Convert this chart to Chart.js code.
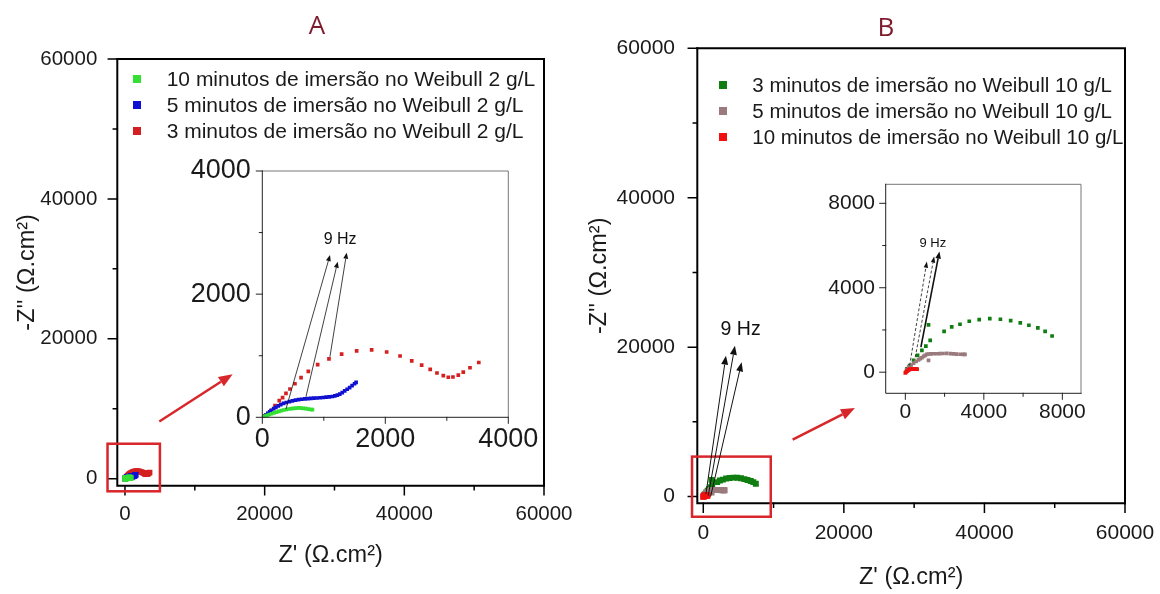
<!DOCTYPE html>
<html>
<head>
<meta charset="utf-8">
<script src="https://cdn.jsdelivr.net/npm/chart.js@4.4.1/dist/chart.umd.min.js"></script>
<style>
  body { margin: 0; background: #fff; }
  #fig { position: relative; width: 1160px; height: 594px; overflow: hidden; font-family: "Liberation Sans", Arial, sans-serif; color: #1a1a1a; }
  #fig canvas { position: absolute; }
  .panel { position: absolute; font-family: "Open Sans", sans-serif; font-size: 26px; line-height: 1; color: #7d1a2c; transform: translate(-50%, -50%); }
  .legend { position: absolute; }
  .legend div { position: relative; white-space: nowrap; }
  .legend span { position: absolute; width: 8px; height: 8px; top: 50%; margin-top: -4px; }
</style>
</head>
<body>
<div id="fig">
  <canvas id="mainA" width="580" height="594" style="left:0;top:0"></canvas>
  <canvas id="insetA" width="370" height="310" style="left:180px;top:150px"></canvas>
  <canvas id="mainB" width="580" height="594" style="left:580px;top:0"></canvas>
  <canvas id="insetB" width="300" height="265" style="left:820px;top:165px"></canvas>
  <div class="panel" style="left:317px;top:24px">A</div>
  <div class="panel" style="left:886px;top:26px">B</div>
  <div class="legend" id="legendA"></div>
  <div class="legend" id="legendB"></div>
</div>
<script>
// Weibull 2 g/L, Nyquist points (Z', -Z'') in ohm.cm2
var a10X = [20, 50, 80, 115, 150, 190, 230, 270, 310, 350, 390, 430, 470, 510, 550, 590, 630, 670, 710, 750, 790, 815];
var a10Y = [8, 20, 32, 45, 58, 72, 85, 97, 108, 118, 127, 135, 141, 146, 150, 152, 150, 146, 140, 133, 127, 124];
var a5X = [30, 60, 90, 120, 150, 185, 220, 260, 300, 345, 390, 440, 490, 540, 590, 640, 690, 740, 790, 840, 890, 940, 990, 1040, 1090, 1140, 1180, 1220, 1260, 1300, 1340, 1380, 1420, 1460, 1500, 1525];
var a5Y = [15, 40, 65, 90, 115, 140, 160, 185, 205, 225, 240, 255, 268, 278, 286, 293, 298, 302, 306, 310, 314, 318, 322, 327, 333, 338, 348, 360, 376, 400, 428, 455, 483, 515, 545, 568];
var a3X = [40, 90, 140, 206, 276, 330, 385, 450, 531, 630, 748, 900, 1084, 1290, 1534, 1778, 2022, 2240, 2430, 2591, 2730, 2840, 2943, 3024, 3100, 3187, 3268, 3377, 3520];
var a3Y = [25, 60, 110, 189, 270, 320, 389, 460, 545, 645, 746, 855, 950, 1027, 1080, 1095, 1060, 995, 917, 846, 778, 719, 678, 651, 655, 686, 735, 805, 890];

// Weibull 10 g/L
var b3X = [84, 219, 422, 624, 844, 1046, 1266, 1181, 1975, 2363, 2785, 3257, 3764, 4304, 4844, 5367, 5857, 6295, 6751, 7122, 7477];
var b3Y = [159, 317, 556, 794, 1032, 1238, 1508, 2238, 1937, 2143, 2270, 2413, 2492, 2540, 2508, 2444, 2333, 2222, 2095, 1937, 1714];
var b5X = [60, 169, 300, 422, 550, 675, 760, 844, 928, 1010, 1097, 1181, 1181, 1300, 1450, 1603, 1760, 1920, 2110, 2300, 2460, 2616, 2800, 2950, 3038];
var b5Y = [100, 238, 340, 429, 510, 587, 640, 683, 746, 800, 841, 860, 556, 870, 872, 873, 880, 885, 889, 880, 868, 857, 850, 845, 841];
var b10X = [0, 40, 84, 130, 169, 210, 253, 320, 388, 450, 506, 560, 600];
var b10Y = [-30, 10, 48, 80, 111, 130, 143, 145, 143, 150, 159, 150, 143];

var labelsA = ["10 minutos de imersão no Weibull 2 g/L", "5 minutos de imersão no Weibull 2 g/L", "3 minutos de imersão no Weibull 2 g/L"];
var labelsB = ["3 minutos de imersão no Weibull 10 g/L", "5 minutos de imersão no Weibull 10 g/L", "10 minutos de imersão no Weibull 10 g/L"];
var colorsA = ["#35e035", "#1010d0", "#d42020"];
var colorsB = ["#0f7d0f", "#9a7a7c", "#f01010"];

// tick positions; only multiples of the label step get a number
var mainTicks = [0, 10000, 20000, 30000, 40000, 50000, 60000];
var insetATicks = [0, 1000, 2000, 3000, 4000];
var insetBTicks = [0, 2000, 4000, 6000, 8000];

// zoom frame, pointer and 9 Hz arrows, in data units
var zoomBoxA = [-2500, -1800, 5000, 5000];
var pointerA = [4911, 8183, 15419, 14950];
var hzArrowsA = [[385, 135, 1101, 2635], [710, 335, 1226, 2526], [1100, 984, 1372, 2672]];
var hzTextA = [1265, 2879];
var zoomBoxB = [-1600, -2700, 9600, 5350];
var pointerB = [12717, 7625, 21579, 11866];
var hzArrowsB = [[380, 357, 3226, 18859], [711, 134, 4507, 20196], [1044, 0, 5455, 17967]];
var hzTextB = [5312, 22292];
var hzArrowsBi = [[219, 317, 1097, 5238], [506, 714, 1468, 5476], [793, 1190, 1738, 5714]];
var hzTextBi = [1401, 6079];

var FONT = "'Liberation Sans', Arial, sans-serif";
var RED = "#d8262a";

function pts(xs, ys) {
  return xs.map(function (x, i) { return { x: x, y: ys[i] }; });
}

function arrow(ctx, x1, y1, x2, y2, s) {
  var ang = Math.atan2(y2 - y1, x2 - x1);
  var bx = x2 - s.head * Math.cos(ang), by = y2 - s.head * Math.sin(ang);
  ctx.strokeStyle = s.color;
  ctx.fillStyle = s.color;
  ctx.lineWidth = s.width;
  ctx.setLineDash(s.dash || []);
  ctx.beginPath();
  ctx.moveTo(x1, y1);
  ctx.lineTo(bx, by);
  ctx.stroke();
  ctx.setLineDash([]);
  ctx.beginPath();
  ctx.moveTo(x2, y2);
  ctx.lineTo(bx + s.half * Math.sin(ang), by - s.half * Math.cos(ang));
  ctx.lineTo(bx - s.half * Math.sin(ang), by + s.half * Math.cos(ang));
  ctx.closePath();
  ctx.fill();
}

// outward tick marks plus the box around the plot area
var axesPlugin = {
  id: 'axes',
  afterDraw: function (chart, args, o) {
    var ctx = chart.ctx, a = chart.chartArea, x = chart.scales.x, y = chart.scales.y;
    ctx.save();
    ctx.lineCap = 'square';
    ctx.strokeStyle = o.axisColor;
    ctx.lineWidth = o.tickWidth;
    ctx.beginPath();
    x.ticks.forEach(function (t) {
      var p = x.getPixelForValue(t.value);
      ctx.moveTo(p, a.bottom);
      ctx.lineTo(p, a.bottom + (t.label ? o.major : o.minor));
    });
    y.ticks.forEach(function (t) {
      var p = y.getPixelForValue(t.value);
      ctx.moveTo(a.left, p);
      ctx.lineTo(a.left - (t.label ? o.major : o.minor), p);
    });
    ctx.stroke();
    ctx.strokeStyle = o.edgeColor;
    ctx.lineWidth = o.edgeWidth;
    ctx.beginPath();
    ctx.moveTo(a.left, a.top);
    ctx.lineTo(a.right, a.top);
    ctx.lineTo(a.right, a.bottom);
    ctx.stroke();
    ctx.strokeStyle = o.axisColor;
    ctx.lineWidth = o.axisWidth;
    ctx.beginPath();
    ctx.moveTo(a.left, a.top);
    ctx.lineTo(a.left, a.bottom);
    ctx.lineTo(a.right, a.bottom);
    ctx.stroke();
    ctx.restore();
  }
};

// zoom frame, red pointer and the 9 Hz arrows
var marksPlugin = {
  id: 'marks',
  afterDraw: function (chart, args, o) {
    var ctx = chart.ctx, x = chart.scales.x, y = chart.scales.y;
    var px = function (v) { return x.getPixelForValue(v); };
    var py = function (v) { return y.getPixelForValue(v); };
    ctx.save();
    if (o.box) {
      ctx.strokeStyle = RED;
      ctx.lineWidth = 2.5;
      ctx.strokeRect(px(o.box[0]), py(o.box[3]), px(o.box[2]) - px(o.box[0]), py(o.box[1]) - py(o.box[3]));
    }
    if (o.pointer) {
      var p = o.pointer;
      arrow(ctx, px(p[0]), py(p[1]), px(p[2]), py(p[3]), { color: RED, width: 2.5, head: 14, half: 5.5 });
    }
    (o.arrows || []).forEach(function (r, i) {
      var st = o.styles ? o.styles[i] : o.style;
      arrow(ctx, px(r[0]), py(r[1]), px(r[2]), py(r[3]), st);
    });
    if (o.text) {
      ctx.fillStyle = '#111';
      ctx.font = o.textSize + "px " + FONT;
      ctx.textAlign = 'center';
      ctx.textBaseline = 'middle';
      ctx.fillText('9 Hz', px(o.text[0]), py(o.text[1]));
    }
    ctx.restore();
  }
};

function scale(o) {
  return {
    type: 'linear',
    min: o.min,
    max: o.max,
    grid: { display: false, drawTicks: false },
    border: { display: false },
    afterBuildTicks: function (s) {
      s.ticks = o.ticks.map(function (v) { return { value: v }; });
    },
    ticks: {
      autoSkip: false,
      maxRotation: 0,
      padding: o.pad,
      color: '#1a1a1a',
      font: { family: FONT, size: o.font },
      callback: function (v) { return v % o.labelStep === 0 ? String(v) : ''; }
    },
    title: o.title ? {
      display: true,
      text: o.title,
      color: '#1a1a1a',
      font: { family: FONT, size: 23.5 },
      padding: o.titlePad
    } : { display: false },
    afterFit: function (s) {
      if (s.isHorizontal()) s.height = o.size; else s.width = o.size;
      // plot area is placed by the layout padding alone
      s.paddingTop = s.paddingBottom = s.paddingLeft = s.paddingRight = 0;
    }
  };
}

function plot(id, sets, o) {
  return new Chart(document.getElementById(id), {
    type: 'scatter',
    data: {
      datasets: sets.map(function (s) {
        return {
          data: pts(s[0], s[1]),
          backgroundColor: s[2],
          pointStyle: 'rect',
          pointRadius: o.r,
          pointBorderWidth: 0,
          pointHoverRadius: 0,
          showLine: false
        };
      })
    },
    options: {
      responsive: false,
      animation: false,
      events: [],
      layout: { padding: o.padding },
      plugins: {
        legend: { display: false },
        tooltip: { enabled: false },
        axes: o.axes,
        marks: o.marks
      },
      scales: { x: scale(o.x), y: scale(o.y) }
    },
    plugins: [axesPlugin, marksPlugin]
  });
}

var mainAxes = { major: 9, minor: 4, tickWidth: 1.5, axisColor: '#000', axisWidth: 2, edgeColor: '#000', edgeWidth: 2 };
var insetAxes = { major: 6, minor: 3, tickWidth: 1, axisColor: '#222', axisWidth: 1, edgeColor: '#777', edgeWidth: 1 };

var setsA = [[a10X, a10Y, colorsA[0]], [a5X, a5Y, colorsA[1]], [a3X, a3Y, colorsA[2]]];
var setsB = [[b10X, b10Y, colorsB[2]], [b5X, b5Y, colorsB[1]], [b3X, b3Y, colorsB[0]]];

plot('mainA', setsA, {
  r: 4,
  padding: { left: 0, top: 59, right: 36, bottom: 0 },
  axes: mainAxes,
  marks: { box: zoomBoxA, pointer: pointerA },
  x: { min: -1100, max: 60000, ticks: mainTicks, labelStep: 20000, font: 20.5, pad: 16, size: 108.3,
       title: "Z' (Ω.cm²)", titlePad: { top: 0, bottom: 24.2 } },
  y: { min: -1000, max: 60000, ticks: mainTicks, labelStep: 20000, font: 20.5, pad: 20, size: 117.3,
       title: "-Z'' (Ω.cm²)", titlePad: { top: 13.4, bottom: 0 } }
});

plot('insetA', setsA, {
  r: 2.6,
  padding: { left: 0, top: 21, right: 41.7, bottom: 0 },
  axes: insetAxes,
  marks: { arrows: hzArrowsA, style: { color: '#111', width: 0.8, head: 6, half: 2.5 }, text: hzTextA, textSize: 16 },
  x: { min: 0, max: 4000, ticks: insetATicks, labelStep: 2000, font: 27, pad: 6.2, size: 42.7 },
  y: { min: 0, max: 4000, ticks: insetATicks, labelStep: 2000, font: 27, pad: 11.6, size: 82.3 }
});

plot('mainB', setsB, {
  r: 4.2,
  padding: { left: 0, top: 48.3, right: 35, bottom: 0 },
  axes: mainAxes,
  marks: { box: zoomBoxB, pointer: pointerB, arrows: hzArrowsB,
           style: { color: '#111', width: 1, head: 9, half: 3.5 }, text: hzTextB, textSize: 19.5 },
  x: { min: -850, max: 60000, ticks: mainTicks, labelStep: 20000, font: 21, pad: 17.4, size: 90.7,
       title: "Z' (Ω.cm²)", titlePad: { top: 0, bottom: 2.6 } },
  y: { min: -900, max: 60000, ticks: mainTicks, labelStep: 20000, font: 21, pad: 22.3, size: 117.3,
       title: "-Z'' (Ω.cm²)", titlePad: { top: 5.9, bottom: 0 } }
});

plot('insetB', setsB, {
  r: 2.6,
  padding: { left: 0, top: 19.3, right: 39, bottom: 0 },
  axes: insetAxes,
  marks: {
    arrows: hzArrowsBi,
    styles: [
      { color: '#111', width: 0.8, head: 6, half: 2.2, dash: [3, 2] },
      { color: '#111', width: 0.8, head: 6, half: 2.2, dash: [3, 2] },
      { color: '#111', width: 1.6, head: 7, half: 2.8 }
    ],
    text: hzTextBi, textSize: 13
  },
  x: { min: -1000, max: 8950, ticks: insetBTicks, labelStep: 4000, font: 21, pad: 6.4, size: 36.7 },
  y: { min: -1000, max: 8900, ticks: insetBTicks, labelStep: 4000, font: 21, pad: 10.7, size: 65.7 }
});

function legend(id, labels, colors, o) {
  var el = document.getElementById(id);
  el.style.left = o.textX + 'px';
  el.style.top = (o.firstRow - o.rowH / 2) + 'px';
  el.style.fontSize = o.font + 'px';
  el.style.lineHeight = o.rowH + 'px';
  labels.forEach(function (t, i) {
    var row = document.createElement('div');
    var m = document.createElement('span');
    m.style.background = colors[i];
    m.style.left = (o.markX - o.textX - 4) + 'px';
    row.appendChild(m);
    row.appendChild(document.createTextNode(t));
    el.appendChild(row);
  });
}

legend('legendA', labelsA, colorsA, { textX: 166.7, markX: 136.7, firstRow: 79, rowH: 25.85, font: 21 });
legend('legendB', labelsB, colorsB, { textX: 752.3, markX: 723.3, firstRow: 85, rowH: 25.85, font: 20.5 });
</script>
</body>
</html>
